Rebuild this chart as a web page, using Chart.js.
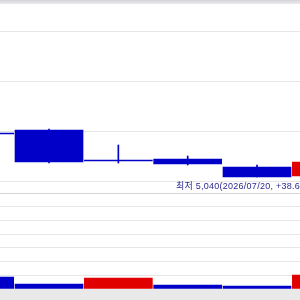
<!DOCTYPE html>
<html>
<head>
<meta charset="utf-8">
<script src="https://cdn.jsdelivr.net/npm/chart.js@4.4.1/dist/chart.umd.min.js"></script>
<style>
  html, body { margin: 0; padding: 0; background: #ffffff; width: 300px; height: 300px; overflow: hidden; }
  #topband { position: absolute; left: 0; top: 0; width: 300px; height: 4px; background: linear-gradient(#d4d4d8, #ececef); }
  #botband { position: absolute; left: 0; top: 289px; width: 300px; height: 11px; background: #e9e9e9; }
  #price { position: absolute; left: 0; top: 0; }
  #volume { position: absolute; left: 0; top: 193px; }
</style>
</head>
<body>
<canvas id="price" width="300" height="193"></canvas>
<canvas id="volume" width="300" height="96"></canvas>
<div id="topband"></div>
<div id="botband"></div>
<script>
// ---- data ----
const dates   = ['2026/07/16', '2026/07/17', '2026/07/18', '2026/07/19', '2026/07/20', '2026/07/21'];
const opens   = [5480, 5510, 5210, 5220, 5140, 5050];
const highs   = [5480, 5520, 5360, 5250, 5160, 5190];
const lows    = [5470, 5180, 5180, 5160, 5040, 5050];
const closes  = [5470, 5190, 5200, 5170, 5040, 5190];
const volumes = [87000, 36000, 80000, 29000, 22000, 102000];
const volumeUp = [false, false, true, false, false, true];
const priceGridTicks = [5000, 5500, 6000, 6500];
const volumeGridTicks = [0, 100000, 200000, 300000, 400000, 500000, 600000, 700000];
const lowLabel = '최저 5,040(2026/07/20, +38.69%)';
const lowIndex = 4;

const UP = '#e00000';
const DOWN = '#0000c8';
const candleColors = opens.map((o, i) => closes[i] > o ? UP : DOWN);
const volColors = volumeUp.map(u => u ? UP : DOWN);

const bodies = opens.map((o, i) => ({ x: i, y: [o, closes[i]] }));
const wicks  = lows.map((l, i) => ({ x: i, y: [l, highs[i]] }));
const vols   = volumes.map((v, i) => ({ x: i, y: v }));

const xScale = { type: 'linear', min: 0.293, max: 4.62, offset: false, display: false };

const lowLabelPlugin = {
  id: 'lowLabel',
  afterDatasetsDraw(chart) {
    const x = chart.scales.x.getPixelForValue(lowIndex);
    const y = chart.scales.y.getPixelForValue(lows[lowIndex]);
    const ctx = chart.ctx;
    ctx.save();
    ctx.font = '9px "Liberation Sans", "Noto Sans CJK KR", sans-serif';
    if ('letterSpacing' in ctx) ctx.letterSpacing = '0.25px';
    ctx.fillStyle = '#2a2a90';
    ctx.textAlign = 'left';
    ctx.textBaseline = 'alphabetic';
    ctx.fillText(lowLabel, x - 81, y + 12);
    ctx.restore();
  }
};

new Chart(document.getElementById('price'), {
  type: 'bar',
  data: {
    datasets: [
      { data: bodies, backgroundColor: candleColors, barThickness: 68, grouped: false, order: 0, borderWidth: 0 },
      { data: wicks, backgroundColor: candleColors, barThickness: 1, grouped: false, order: 1, borderWidth: 0 }
    ]
  },
  options: {
    responsive: false,
    animation: false,
    devicePixelRatio: 1,
    layout: { padding: 0 },
    plugins: { legend: { display: false }, tooltip: { enabled: false } },
    scales: {
      x: xScale,
      y: {
        min: 4880, max: 6810,
        ticks: { display: false },
        afterBuildTicks: (s) => { s.ticks = priceGridTicks.map(v => ({ value: v })); },
        grid: { color: '#e6e6e6', drawTicks: false, lineWidth: 1 },
        border: { display: false }
      }
    }
  },
  plugins: [lowLabelPlugin]
});

new Chart(document.getElementById('volume'), {
  type: 'bar',
  data: {
    datasets: [
      { data: vols, backgroundColor: volColors, barThickness: 68, borderWidth: 0 }
    ]
  },
  options: {
    responsive: false,
    animation: false,
    devicePixelRatio: 1,
    layout: { padding: 0 },
    plugins: { legend: { display: false }, tooltip: { enabled: false } },
    scales: {
      x: xScale,
      y: {
        min: 0, max: 700000,
        ticks: { display: false },
        afterBuildTicks: (s) => { s.ticks = volumeGridTicks.map(v => ({ value: v })); },
        grid: {
          color: (c) => c.tick && c.tick.value === 700000 ? '#d6d6d6' : '#e6e6e6',
          drawTicks: false, lineWidth: 1
        },
        border: { display: false }
      }
    }
  }
});
</script>
</body>
</html>
